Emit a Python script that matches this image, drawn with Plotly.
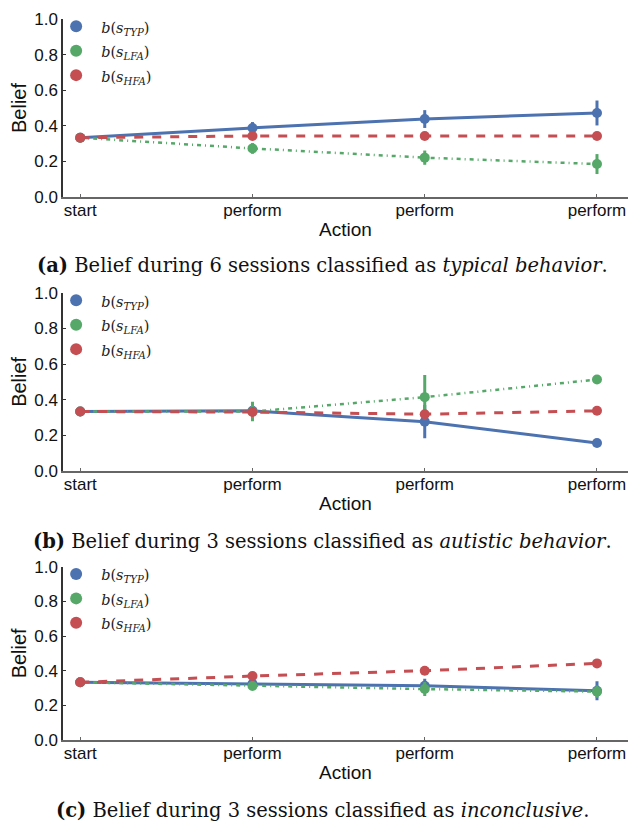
import plotly.graph_objects as go

actions = ["start", "perform", "perform", "perform"]
xpos = [0, 1, 2, 3]

# Panel (a): typical behavior
a_typ = [0.333, 0.388, 0.438, 0.472]
a_typ_err = [0.0, 0.033, 0.05, 0.07]
a_lfa = [0.333, 0.273, 0.221, 0.185]
a_lfa_err = [0.0, 0.03, 0.04, 0.056]
a_hfa = [0.333, 0.343, 0.343, 0.343]
a_hfa_err = [0.0, 0.0, 0.0, 0.0]

# Panel (b): autistic behavior
b_typ = [0.333, 0.337, 0.276, 0.156]
b_typ_err = [0.0, 0.0, 0.094, 0.0]
b_lfa = [0.333, 0.333, 0.414, 0.513]
b_lfa_err = [0.0, 0.055, 0.124, 0.0]
b_hfa = [0.333, 0.33, 0.318, 0.337]
b_hfa_err = [0.0, 0.0, 0.0, 0.0]

# Panel (c): inconclusive
c_typ = [0.333, 0.325, 0.313, 0.284]
c_typ_err = [0.0, 0.0, 0.04, 0.055]
c_lfa = [0.333, 0.312, 0.294, 0.279]
c_lfa_err = [0.0, 0.0, 0.04, 0.035]
c_hfa = [0.333, 0.369, 0.40, 0.442]
c_hfa_err = [0.0, 0.0, 0.0, 0.0]

legend_labels = ["<i>b</i>(<i>s</i><sub><i>TYP</i></sub>)",
                 "<i>b</i>(<i>s</i><sub><i>LFA</i></sub>)",
                 "<i>b</i>(<i>s</i><sub><i>HFA</i></sub>)"]
captions = [
    "<b>(a)</b> Belief during 6 sessions classified as <i>typical behavior</i>.",
    "<b>(b)</b> Belief during 3 sessions classified as <i>autistic behavior</i>.",
    "<b>(c)</b> Belief during 3 sessions classified as <i>inconclusive</i>.",
]

BLUE = "#4C72B0"
GREEN = "#55A868"
RED = "#C44E52"

W, H = 628, 822
L = 63
# pixel positions of y=1.0 and y=0.0 for each panel
panels_px = [(19, 197), (293, 470.7), (566.7, 740)]
caption_px = [266, 541, 810]
SERIF = "DejaVu Serif, Liberation Serif, serif"

def py(p):
    return 1 - p / H

fig = go.Figure()
data = [
    (a_typ, a_typ_err, a_lfa, a_lfa_err, a_hfa, a_hfa_err),
    (b_typ, b_typ_err, b_lfa, b_lfa_err, b_hfa, b_hfa_err),
    (c_typ, c_typ_err, c_lfa, c_lfa_err, c_hfa, c_hfa_err),
]

for i, (typ, typ_e, lfa, lfa_e, hfa, hfa_e) in enumerate(data):
    n = i + 1
    xa = "x" if n == 1 else f"x{n}"
    ya = "y" if n == 1 else f"y{n}"
    lg = "legend" if n == 1 else f"legend{n}"
    series = [
        (typ, typ_e, BLUE, "solid", 3),
        (lfa, lfa_e, GREEN, "4px,4px,1px,4px", 2.5),
        (hfa, hfa_e, RED, "dash", 3),
    ]
    for (vals, errs, col, dash, w) in series:
        fig.add_trace(go.Scatter(
            x=xpos, y=vals, xaxis=xa, yaxis=ya, mode="lines+markers",
            line=dict(color=col, width=w, dash=dash),
            marker=dict(color=col, size=10),
            error_y=dict(type="data", array=errs, visible=True, color=col, thickness=3, width=0),
            showlegend=False, hoverinfo="skip"))
    for lab, col in zip(legend_labels, [BLUE, GREEN, RED]):
        fig.add_trace(go.Scatter(
            x=[None], y=[None], xaxis=xa, yaxis=ya, mode="markers",
            marker=dict(color=col, size=10),
            name=f'<span style="font-size:14.5px">{lab}</span>', legend=lg, showlegend=True))

layout = dict(
    width=W, height=H, paper_bgcolor="white", plot_bgcolor="white",
    margin=dict(l=L, r=0, t=0, b=0, autoexpand=False),
    font=dict(family="Liberation Sans, Arial, sans-serif", size=17, color="#111"),
)
for i, (top, bot) in enumerate(panels_px):
    n = i + 1
    xk = "xaxis" if n == 1 else f"xaxis{n}"
    yk = "yaxis" if n == 1 else f"yaxis{n}"
    layout[xk] = dict(
        domain=[0, 1], anchor="y" if n == 1 else f"y{n}", automargin=False,
        range=[-0.1, 3.18], tickvals=xpos, ticktext=actions,
        showgrid=False, zeroline=False, showline=True, linecolor="#666", linewidth=1.5,
        ticks="inside", ticklen=3, tickcolor="#666", ticklabelstandoff=-3,
        title=dict(text="Action", font=dict(size=19), standoff=4),
        tickfont=dict(size=17),
    )
    layout[yk] = dict(
        domain=[py(bot), py(top)], anchor="x" if n == 1 else f"x{n}", automargin=False,
        range=[0, 1], tickvals=[0, 0.2, 0.4, 0.6, 0.8, 1.0], tickformat=".1f",
        showgrid=False, zeroline=False, showline=True, linecolor="#333", linewidth=1.5,
        ticks="inside", ticklen=3, tickcolor="#333",
        title=dict(text="Belief", font=dict(size=20), standoff=2),
        tickfont=dict(size=17),
    )
    lg = "legend" if n == 1 else f"legend{n}"
    layout[lg] = dict(
        x=-0.021, y=py(top - 10), xanchor="left", yanchor="top",
        bgcolor="rgba(0,0,0,0)", borderwidth=0,
        font=dict(family=SERIF, size=16.5, color="#222"),
        itemsizing="constant", tracegroupgap=0, itemwidth=40,
    )

fig.update_layout(**layout)

for cap, cp in zip(captions, caption_px):
    fig.add_annotation(
        text=cap, xref="paper", yref="paper", x=(322 - L) / (W - L), y=py(cp),
        xanchor="center", yanchor="middle", showarrow=False,
        font=dict(family=SERIF, size=19.5, color="#111"))

fig.write_html("out.html", config={"displayModeBar": False},
               post_script="document.body.style.margin='0';document.body.style.overflow='hidden';")
